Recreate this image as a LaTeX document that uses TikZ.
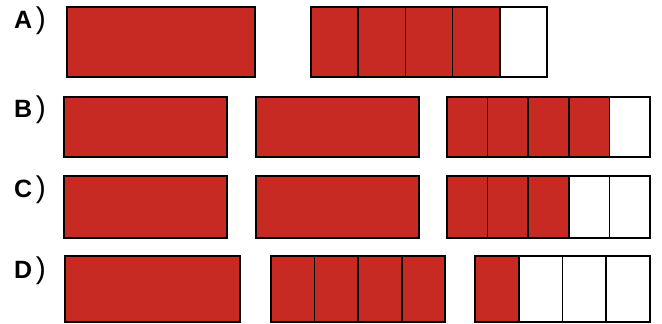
\documentclass[tikz,border=0pt]{standalone}
\usepackage{fontspec}
\setmainfont{Liberation Sans}
\definecolor{brick}{RGB}{198,42,34}
% one row of equal cells, the first #5 of #6 filled
\newcommand\cellrow[6]{%
  \foreach \i in {1,...,#6}{%
    \ifnum\i>#5 \def\fc{white}\else\def\fc{brick}\fi
    \draw[cell,fill=\fc] ({#1+(\i-1)*#3},#2) rectangle ++(#3,#4);}}
\newcommand\rowtag[1]{\textbf{#1}\kern3.5pt{\fontsize{30}{30}\selectfont)}}
\begin{document}
\begin{tikzpicture}[x=1pt,y=-1pt,
  cell/.style={draw=black,line width=1.7pt},
  bar/.style={cell,fill=brick},
  tag/.style={font=\fontsize{25}{25}\selectfont,anchor=base west,inner sep=0pt}]
\useasboundingbox (0,0) rectangle (662,324);
% A
\node[tag] (tagA) at (14,28.3) {\rowtag{A}};
\draw[bar] (67,7) rectangle (255,77);
\cellrow{311}{7}{47.2}{70}{4}{5}
% B
\node[tag] (tagB) at (14,117.5) {\rowtag{B}};
\draw[bar] (64,96.7) rectangle (227.3,157.3);
\draw[bar] (256,96.7) rectangle (419.3,157.3);
\cellrow{446.7}{96.7}{40.72}{60.6}{4}{5}
% C
\node[tag] (tagC) at (14,197) {\rowtag{C}};
\draw[bar] (64,176) rectangle (227.3,238);
\draw[bar] (256,176) rectangle (419.3,238);
\cellrow{446.7}{176}{40.72}{62}{3}{5}
% D
\node[tag] (tagD) at (14,278.5) {\rowtag{D}};
\draw[bar] (65.3,256.3) rectangle (239.7,322);
\cellrow{270.7}{256.3}{43.65}{65.7}{4}{4}
\cellrow{475}{256.3}{43.75}{65.7}{1}{4}
\end{tikzpicture}
\end{document}
